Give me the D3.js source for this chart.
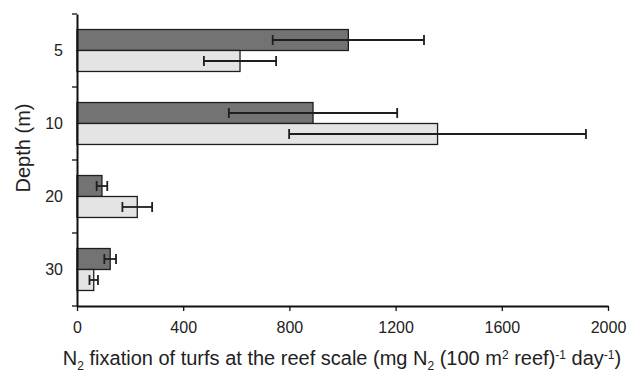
<!DOCTYPE html>
<html>
<head>
<meta charset="utf-8">
<script src="https://cdn.jsdelivr.net/npm/d3@7"></script>
<style>
  body { margin: 0; background: #fff; }
  text { font-family: "Liberation Sans", Arial, Helvetica, sans-serif; fill: #222; }
</style>
</head>
<body>
<div id="chart"></div>
<script>
// depth categories (m)
const depths = ['5', '10', '20', '30']
// two series per depth: dark bar on top, light bar below
const seriesKeys = ['dark', 'light']
const darkValues = [1022, 889, 94, 125]
const darkErrors = [285, 317, 20, 22]
const lightValues = [614, 1358, 227, 63]
const lightErrors = [136, 559, 56, 16]
const xTicks = [0, 400, 800, 1200, 1600, 2000]

const width = 638, height = 377
const margin = { top: 14, right: 30, bottom: 71, left: 77 }

const svg = d3.select('#chart').append('svg')
  .attr('width', width).attr('height', height)

const x = d3.scaleLinear()
  .domain([0, 2000])
  .range([margin.left, width - margin.right])

const y = d3.scaleBand()
  .domain(depths)
  .range([margin.top, height - margin.bottom])

const ySub = d3.scaleBand()
  .domain(seriesKeys)
  .range([0, y.bandwidth()])
  .paddingOuter(0.74)

const colors = { dark: '#737373', light: '#e4e4e4' }

const rows = []
depths.forEach((d, i) => {
  rows.push({ depth: d, key: 'dark', value: darkValues[i], err: darkErrors[i] })
  rows.push({ depth: d, key: 'light', value: lightValues[i], err: lightErrors[i] })
})

/** bars */
svg.append('g').selectAll('rect')
  .data(rows)
  .join('rect')
  .attr('x', x(0))
  .attr('y', d => y(d.depth) + ySub(d.key))
  .attr('width', d => x(d.value) - x(0))
  .attr('height', ySub.bandwidth())
  .attr('fill', d => colors[d.key])
  .attr('stroke', '#1e1e1e')
  .attr('stroke-width', 1.3)

/** error bars */
const capHalf = 5
const err = svg.append('g')
  .attr('stroke', '#1e1e1e')
  .attr('stroke-width', 1.8)
  .selectAll('g')
  .data(rows)
  .join('g')
  .attr('transform', d => `translate(0, ${y(d.depth) + ySub(d.key) + ySub.bandwidth() / 2})`)

err.append('line')
  .attr('x1', d => x(d.value - d.err))
  .attr('x2', d => x(d.value + d.err))
  .attr('y1', 0).attr('y2', 0)
err.append('line')
  .attr('x1', d => x(d.value - d.err)).attr('x2', d => x(d.value - d.err))
  .attr('y1', -capHalf).attr('y2', capHalf)
err.append('line')
  .attr('x1', d => x(d.value + d.err)).attr('x2', d => x(d.value + d.err))
  .attr('y1', -capHalf).attr('y2', capHalf)

/** x axis */
const xAxis = svg.append('g')
  .attr('transform', `translate(0, ${height - margin.bottom})`)
  .call(d3.axisBottom(x).tickValues(xTicks).tickFormat(d3.format('d'))
    .tickSize(5).tickSizeOuter(0).tickPadding(11))
xAxis.select('.domain').attr('stroke', '#111').attr('stroke-width', 2)
xAxis.selectAll('.tick line').attr('stroke', '#111').attr('stroke-width', 1.3)
xAxis.selectAll('.tick text').attr('font-size', 16).attr('fill', '#222')

/** y axis: labels at band centers, ticks at band edges */
const yAxis = svg.append('g')
  .attr('transform', `translate(${margin.left}, 0)`)
  .call(d3.axisLeft(y).tickSize(0).tickPadding(14))
yAxis.select('.domain').attr('stroke', '#111').attr('stroke-width', 2)
yAxis.selectAll('.tick text').attr('font-size', 16).attr('fill', '#222')

const edges = depths.map(d => y(d)).concat([y.range()[1]])
yAxis.selectAll('.edge')
  .data(edges)
  .join('line')
  .attr('class', 'edge')
  .attr('x1', -5).attr('x2', 0)
  .attr('y1', d => d).attr('y2', d => d)
  .attr('stroke', '#111').attr('stroke-width', 1.3)

/** axis titles */
svg.append('text')
  .attr('transform', 'translate(30, 148) rotate(-90)')
  .attr('text-anchor', 'middle')
  .attr('font-size', 20)
  .text('Depth (m)')

const title = svg.append('text')
  .attr('x', 342)
  .attr('y', 365)
  .attr('text-anchor', 'middle')
  .attr('font-size', 20)
const part = (t, s, shift) => {
  title.append('tspan').text(t)
  if (s) title.append('tspan').attr('font-size', 12).attr('baseline-shift', shift).text(s)
}
part('N', '2', -5)
part(' fixation of turfs at the reef scale (mg N', '2', -5)
part(' (100 m', '2', 6)
part(' reef)', '-1', 6)
part(' day', '-1', 6)
part(')')
</script>
</body>
</html>
